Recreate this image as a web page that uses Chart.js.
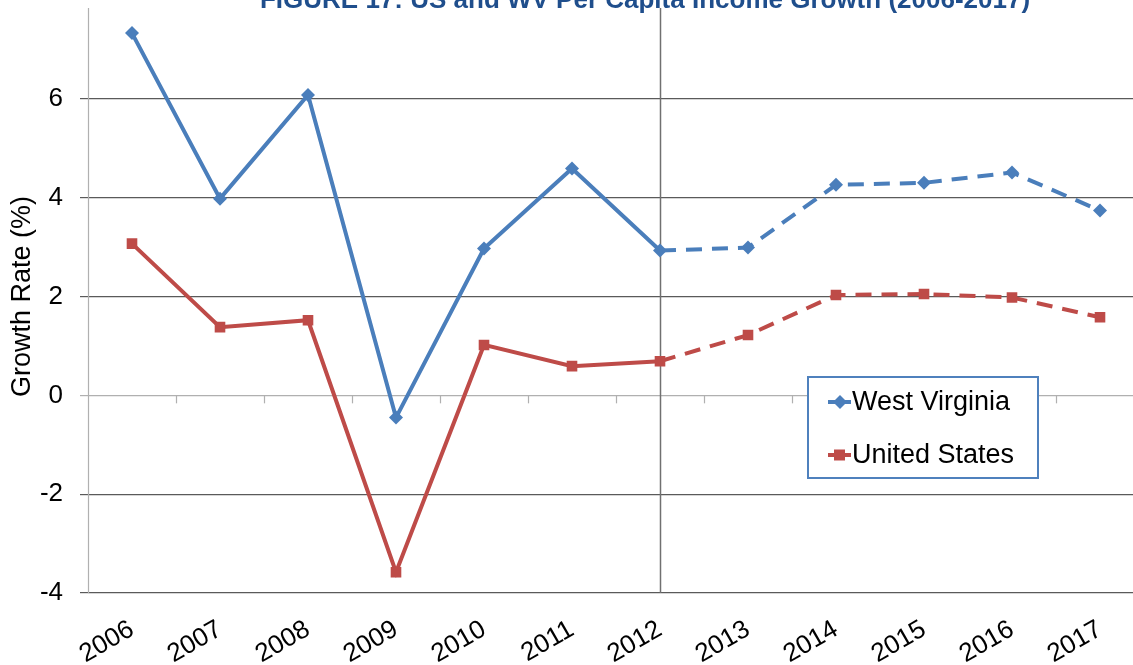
<!DOCTYPE html>
<html>
<head>
<meta charset="utf-8">
<script src="https://cdn.jsdelivr.net/npm/chart.js@4"></script>
<style>
  html, body { margin: 0; padding: 0; overflow: hidden; background: #fff; }
  .chart-container { position: relative; width: 1144px; height: 665px; }
</style>
</head>
<body>
<div class="chart-container"><canvas id="growthChart"></canvas></div>
<script>
const years = ['2006', '2007', '2008', '2009', '2010', '2011', '2012', '2013', '2014', '2015', '2016', '2017'];

// per capita income growth, %
const growthData = {
  'West Virginia': [7.33, 3.98, 6.08, -0.45, 2.97, 4.59, 2.93, 2.99, 4.26, 4.30, 4.51, 3.74],
  'United States': [3.07, 1.38, 1.52, -3.58, 1.02, 0.59, 0.69, 1.22, 2.03, 2.05, 1.98, 1.58]
};

const colors = {
  'West Virginia': '#4a7ebb',
  'United States': '#be4b48'
};

const pointStyles = {
  'West Virginia': { style: 'rectRot', radius: 7 },
  'United States': { style: 'rect', radius: 7.5 }
};

const FONT = "'Liberation Sans', Arial, Helvetica, sans-serif";
const PROJECTION_START = 6; // 2012 onward is a forecast (dashed)

const overlayPlugin = {
  id: 'overlay',
  beforeDatasetsDraw(chart) {
    const { ctx, chartArea, scales: { x, y } } = chart;
    ctx.save();
    // left axis line (starts a little below the top edge)
    const ax = Math.round(chartArea.left) + 0.5;
    ctx.strokeStyle = '#b0b0b0';
    ctx.lineWidth = 1.2;
    ctx.beginPath();
    ctx.moveTo(ax, 8);
    ctx.lineTo(ax, chartArea.bottom);
    ctx.stroke();
    // small tick marks on the zero line between categories
    const y0 = y.getPixelForValue(0);
    for (let i = 1; i < years.length; i++) {
      const bx = Math.round((x.getPixelForValue(i - 1) + x.getPixelForValue(i)) / 2) + 0.5;
      ctx.beginPath();
      ctx.moveTo(bx, y0);
      ctx.lineTo(bx, y0 + 8);
      ctx.stroke();
    }
    // separator between actual and projected values
    const vx = Math.round(x.getPixelForValue(PROJECTION_START)) + 0.5;
    ctx.strokeStyle = '#707070';
    ctx.lineWidth = 1.5;
    ctx.beginPath();
    ctx.moveTo(vx, 8);
    ctx.lineTo(vx, chartArea.bottom);
    ctx.stroke();
    ctx.restore();
  },
  afterDraw(chart) {
    const ctx = chart.ctx;
    ctx.save();

    // title, cut off by the top of the picture
    ctx.font = 'bold 26px ' + FONT;
    ctx.fillStyle = '#1f4e8c';
    ctx.textAlign = 'center';
    ctx.textBaseline = 'alphabetic';
    ctx.fillText('FIGURE 17: US and WV Per Capita Income Growth (2006-2017)', 645, 8);

    // legend box
    ctx.fillStyle = '#ffffff';
    ctx.fillRect(808, 377, 230, 101);
    ctx.strokeStyle = '#4f81bd';
    ctx.lineWidth = 2;
    ctx.strokeRect(808, 377, 230, 101);

    ctx.font = '27px ' + FONT;
    ctx.textAlign = 'left';
    ctx.textBaseline = 'middle';
    Object.keys(growthData).forEach((name, i) => {
      const ly = 402 + i * 53;
      const c = colors[name];
      ctx.strokeStyle = c;
      ctx.lineWidth = 4;
      ctx.beginPath();
      ctx.moveTo(828, ly);
      ctx.lineTo(851, ly);
      ctx.stroke();
      ctx.fillStyle = c;
      ctx.beginPath();
      if (pointStyles[name].style === 'rectRot') {
        ctx.moveTo(833, ly);
        ctx.lineTo(840, ly - 7);
        ctx.lineTo(847, ly);
        ctx.lineTo(840, ly + 7);
        ctx.closePath();
      } else {
        ctx.rect(834, ly - 5.5, 11, 11);
      }
      ctx.fill();
      ctx.fillStyle = '#000';
      ctx.fillText(name, 852, ly + 1);
    });
    ctx.restore();
  }
};

const ctx = document.getElementById('growthChart').getContext('2d');

new Chart(ctx, {
  type: 'line',
  data: {
    labels: years,
    datasets: Object.keys(growthData).map(name => ({
      label: name,
      data: growthData[name],
      borderColor: colors[name],
      backgroundColor: colors[name],
      borderWidth: 4,
      pointStyle: pointStyles[name].style,
      pointRadius: pointStyles[name].radius,
      pointBorderWidth: 0,
      pointBackgroundColor: colors[name],
      tension: 0,
      segment: {
        borderDash: c => c.p0DataIndex >= PROJECTION_START ? [16, 10] : undefined
      }
    }))
  },
  options: {
    responsive: true,
    maintainAspectRatio: false,
    animation: false,
    layout: { padding: 0, autoPadding: false },
    plugins: {
      legend: { display: false },
      tooltip: { enabled: false },
      title: { display: false }
    },
    scales: {
      x: {
        offset: true,
        grid: { display: false },
        border: { display: false },
        ticks: {
          minRotation: 30,
          maxRotation: 30,
          padding: 13,
          color: '#000',
          font: { family: FONT, size: 26 }
        },
        afterFit: s => { s.height = 72; }
      },
      y: {
        min: -4,
        max: 8,
        ticks: {
          stepSize: 2,
          padding: 17,
          color: '#000',
          font: { family: FONT, size: 26 },
          callback: v => v === 8 ? null : v
        },
        grid: {
          tickLength: 8,
          lineWidth: 1.2,
          color: c => c.tick && c.tick.value === 0 ? '#b0b0b0' : '#5a5a5a'
        },
        border: { display: false },
        title: {
          display: true,
          text: 'Growth Rate (%)',
          color: '#000',
          font: { family: FONT, size: 27 },
          padding: { top: 6, bottom: 0 }
        },
        afterFit: s => {
          s.width = 88;
          s.paddingTop = 0;
          s.paddingBottom = 0;
        }
      }
    }
  },
  plugins: [overlayPlugin]
});
</script>
</body>
</html>
